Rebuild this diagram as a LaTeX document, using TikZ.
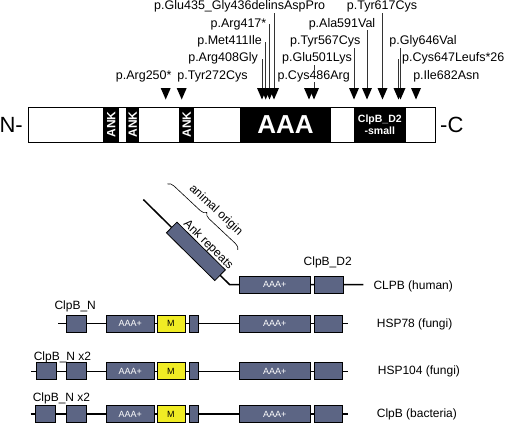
\documentclass[tikz,border=0pt]{standalone}
\usepackage{fontspec}
\setmainfont{Liberation Sans}
\usepackage{xcolor}
\usepackage{tikz}
\usetikzlibrary{positioning,calc,backgrounds,decorations.pathreplacing}

\definecolor{slate}{RGB}{92,101,132}
\definecolor{myellow}{RGB}{240,236,36}

\tikzset{
  mut/.style={fill=white, inner sep=0.5pt, font=\fontsize{12.5}{14}\selectfont},
  mutline/.style={line width=0.7pt, draw=black!80},
  bar/.style={draw, line width=1pt, minimum width=407pt, minimum height=35pt, inner sep=0pt},
  blk/.style={fill=black, text=white, inner sep=0pt, minimum height=35pt, font=\bfseries\fontsize{12}{13}\selectfont},
  term/.style={inner sep=0pt, font=\fontsize{22}{24}\selectfont},
  gene/.style={line width=1.5pt},
  dom/.style={draw, line width=0.8pt, fill=slate, text=white, inner sep=0pt, minimum height=17pt, font=\fontsize{9}{10}\selectfont},
  glabel/.style={inner sep=0pt, font=\fontsize{12}{14}\selectfont},
}

\begin{document}
\begin{tikzpicture}[x=1pt, y=1pt]
  \useasboundingbox (0,0) rectangle (506,-424);

  % Balken
  \node[bar] (prot) at (231.5,-124.5) {};
  \node[term, left=4.5pt of prot] (nterm) {N-};
  \node[term, right=4.5pt of prot] (cterm) {-C};
  \foreach \n/\x/\w in {ank1/111.3/16, ank2/132.7/13.3, ank3/186.7/14.7}
    \node[blk, rotate=90, minimum width=35pt, minimum height=\w] (\n) at (\x,-124.5) {ANK};
  \node[blk, minimum width=91pt, font=\bfseries\fontsize{26}{28}\selectfont] (aaa) at (285.5,-124.5) {AAA};
  \node[blk, minimum width=51.7pt, align=center, font=\bfseries\fontsize{10.5}{12.3}\selectfont] (d2) at (379.8,-124.5) {ClpB\_D2\\-small};

  % Pfeilspitzen
  \foreach \i/\tx in {1/165.7, 2/181.7, 3/262, 4/265.7, 5/269.5, 6/274, 7/309,
                      8/314, 9/354, 10/367, 11/382.5, 12/400.5, 13/398.5, 14/416}{
    \coordinate (t\i) at (\tx,-88);
    \fill (t\i) ++(-5,0) -- ++(10,0) -- ++(-5,-11.5) -- cycle;
  }

  % Mutationen
  \foreach \i/\lx/\ly/\anc/\txt in {
      1/143.7/-76/center/{p.Arg250*},
      2/212.5/-76/center/{p.Tyr272Cys},
      3/258.5/-58.5/east/{p.Arg408Gly},
      4/262.5/-41.5/east/{p.Met411Ile},
      5/267/-24/east/{p.Arg417*},
      6/239.7/-6.7/center/{p.Glu435\_Gly436delinsAspPro},
      7/313.7/-76/center/{p.Cys486Arg},
      8/317/-58.5/center/{p.Glu501Lys},
      9/325.3/-41.5/center/{p.Tyr567Cys},
      10/342/-24/center/{p.Ala591Val},
      11/382/-6.7/center/{p.Tyr617Cys},
      12/423/-41.5/center/{p.Gly646Val},
      13/401.5/-58.5/west/{p.Cys647Leufs*26},
      14/446.3/-76/center/{p.Ile682Asn}
    }
    \node[mut, anchor=\anc] (m\i) at (\lx,\ly) {\txt};

  \begin{pgfonlayer}{background}
    \foreach \i in {3,4,5,6,8,9,10,11,12,13}
      \draw[mutline] (t\i) -- (t\i |- m\i.center);
  \end{pgfonlayer}

  % CLPB human
  \coordinate (ankstart) at (143.3,-199.5);
  \coordinate (ankend) at (229.5,-284.5);
  \coordinate (hum-e) at (363.3,-284.5);
  \draw[gene] (ankstart) -- (ankend) -- (hum-e);
  \node[dom, rotate=-44.6, minimum width=68pt, minimum height=15pt] (ank) at ($(ankstart)!0.61!(ankend)$) {};
  \node[glabel, rotate=-44.6, anchor=base] (ankl) at ($(ank.north)+(4.6,-1.4)$) {Ank repeats};
  \node[dom, anchor=west, minimum width=70.5pt] (hum-a) at (239,-284.5) {AAA+};
  \node[dom, anchor=west, minimum width=28.5pt] (hum-d) at (314.3,-284.5) {};

  % Klammer
  \coordinate (brs) at (167.5,-184);
  \coordinate (bre) at (238,-250);
  \draw[decorate, decoration={brace, amplitude=6pt}, line width=0.6pt] (brs) -- (bre)
    node[glabel, pos=0.55, sloped, above=8pt] (orig) {animal origin};

  % weitere Gene
  \foreach \r/\y/\xs/\xe in {r78/-323.7/58.3/347.7, r104/-371.3/31/348.3, rbac/-414.2/30.7/347.7}{
    \coordinate (\r-s) at (\xs,\y);
    \coordinate (\r-e) at (\xe,\y);
    \draw[gene] (\r-s) -- (\r-e);
    \foreach \n/\x/\w/\fc/\tc/\txt in {a/105.7/48.5/slate/white/AAA+, m/156.5/28/myellow/black/M,
        l/188.5/9.5/slate/white/{}, b/239/70.5/slate/white/AAA+, d/314/28/slate/white/{}}
      \node[dom, anchor=west, minimum width=\w, fill=\fc, text=\tc] (\r-\n) at (\x,\y) {\txt};
  }
  \foreach \n/\x/\y in {r78-n1/65.7/-323.7, r104-n1/35.5/-371.3, r104-n2/66/-371.3,
                        rbac-n1/35/-414.2, rbac-n2/65.7/-414.2}
    \node[dom, anchor=west, minimum width=20] (\n) at (\x,\y) {};

  % Beschriftung
  \node[glabel] (lab-d2) at (327.7,-262.7) {ClpB\_D2};
  \node[glabel] (lab-n1) at (75.2,-306) {ClpB\_N};
  \node[glabel] (lab-n2) at (62.5,-357.3) {ClpB\_N x2};
  \node[glabel] (lab-n3) at (61.5,-398.3) {ClpB\_N x2};
  \node[glabel, anchor=west] (sp-hum) at (373.3,-286.7) {CLPB (human)};
  \node[glabel, anchor=west] (sp-78) at (376.7,-324.3) {HSP78 (fungi)};
  \node[glabel, anchor=west] (sp-104) at (377.7,-371.7) {HSP104 (fungi)};
  \node[glabel, anchor=west] (sp-bac) at (376.7,-414.3) {ClpB (bacteria)};
\end{tikzpicture}
\end{document}
